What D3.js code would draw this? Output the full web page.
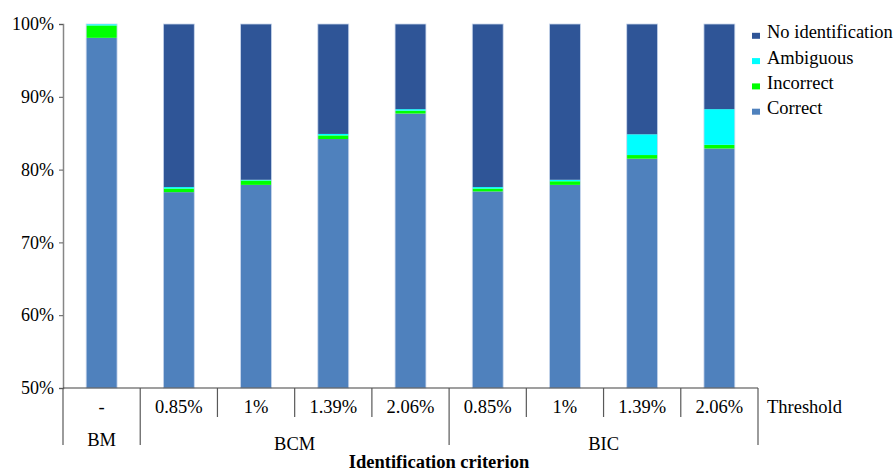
<!DOCTYPE html>
<html><head><meta charset="utf-8">
<script src="https://cdn.jsdelivr.net/npm/d3@7"></script>
</head><body style="margin:0;background:#fff"><svg id="c" width="896" height="471" style="display:block"></svg>
<script>
const criteria = ["BM","BCM","BCM","BCM","BCM","BIC","BIC","BIC","BIC"];
const thresholds = ["-","0.85%","1%","1.39%","2.06%","0.85%","1%","1.39%","2.06%"];
const seriesNames = ["Correct","Incorrect","Ambiguous","No identification"];
const correct   = [98.1, 76.9, 77.9, 84.2, 87.7, 77.0, 77.9, 81.5, 82.9];
const incorrect = [1.7, 0.5, 0.6, 0.5, 0.4, 0.4, 0.5, 0.5, 0.5];
const ambiguous = [0.2, 0.2, 0.1, 0.2, 0.2, 0.2, 0.2, 2.85, 4.9];
const noIdent   = [0.0, 22.4, 21.4, 15.1, 11.7, 22.4, 21.4, 15.15, 11.7];
const groups = [{name:"BM", from:0, to:1},{name:"BCM", from:1, to:5},{name:"BIC", from:5, to:9}];
const yTicks = [50,60,70,80,90,100];
const colors = {"Correct":"#4F81BD","Incorrect":"#00FF00","Ambiguous":"#00FFFF","No identification":"#2F5597"};
const FONT = "Liberation Serif";

const svg = d3.select("#c");
const L = 63, R = 758, T = 24, B = 388;
const idx = d3.range(thresholds.length);
const x = d3.scaleBand().domain(idx).range([L, R]).paddingInner(0.6).paddingOuter(0.3);
const xb = d3.scaleLinear().domain([0, thresholds.length]).range([L, R]);
const y = d3.scaleLinear().domain([50, 100]).range([B, T]);

const rows = idx.map(i => ({i, "Correct":correct[i], "Incorrect":incorrect[i], "Ambiguous":ambiguous[i], "No identification":noIdent[i]}));
const stack = d3.stack().keys(seriesNames)(rows);

svg.append("g").selectAll("g").data(stack).join("g")
  .attr("fill", d => colors[d.key])
  .selectAll("rect").data(d => d).join("rect")
  .attr("x", d => x(d.data.i))
  .attr("width", x.bandwidth())
  .attr("y", d => y(Math.min(100, d[1])))
  .attr("height", d => Math.max(0, y(Math.max(50, d[0])) - y(Math.min(100, d[1]))));

// light bar outline
svg.append("g").selectAll("rect").data(idx).join("rect")
  .attr("x", i => x(i)).attr("width", x.bandwidth())
  .attr("y", y(100)).attr("height", y(50) - y(100))
  .attr("fill", "none").attr("stroke", "#c8d6ec").attr("stroke-width", 0.8);

// y axis
const ya = svg.append("g").attr("transform", `translate(${L},0)`)
  .call(d3.axisLeft(y).tickValues(yTicks).tickFormat(d => d + "%").tickSize(4).tickPadding(5));
ya.attr("font-family", null).attr("font-size", null);
ya.select(".domain").attr("stroke", "#868686").attr("stroke-width", 1.5);
ya.selectAll(".tick line").attr("stroke", "#595959");
ya.selectAll("text").attr("fill", "#000").style("font-size", "18px").style("font-family", FONT);

// x axis line
svg.append("line").attr("x1", L).attr("x2", R).attr("y1", B).attr("y2", B)
  .attr("stroke", "#404040").attr("stroke-width", 1.2);

// separators
const groupEdges = new Set([0, ...groups.map(g => g.to)]);
d3.range(thresholds.length + 1).forEach(k => {
  svg.append("line").attr("x1", xb(k)).attr("x2", xb(k))
    .attr("y1", B).attr("y2", groupEdges.has(k) ? 445 : 417)
    .attr("stroke", "#595959").attr("stroke-width", 1.2);
});

// threshold labels
svg.append("g").selectAll("text").data(idx).join("text")
  .attr("x", i => x(i) + x.bandwidth()/2).attr("y", 413)
  .attr("text-anchor", "middle").style("font-size", "18.5px").style("font-family", FONT).text(i => thresholds[i]);
svg.append("text").attr("x", 767).attr("y", 413).style("font-size", "18.5px").style("font-family", FONT).text("Threshold");

// group labels
svg.append("g").selectAll("text").data(groups).join("text")
  .attr("x", g => (xb(g.from) + xb(g.to))/2).attr("y", g => g.name === "BM" ? 446 : 450)
  .attr("text-anchor", "middle").style("font-size", "18.5px").style("font-family", FONT).text(g => g.name);

svg.append("text").attr("x", 439).attr("y", 468).attr("text-anchor", "middle")
  .style("font-size", "18.5px").style("font-weight", "bold").style("font-family", FONT).text("Identification criterion");

// legend
const legendItems = seriesNames.slice().reverse();
const lg = svg.append("g").selectAll("g").data(legendItems).join("g")
  .attr("transform", (d, k) => `translate(752,${38.3 + k * 25.3})`);
lg.append("rect").attr("x", 0).attr("y", -5.5).attr("width", 8).attr("height", 6).attr("fill", d => colors[d]);
lg.append("text").attr("x", 15).attr("y", 0).style("font-size", "18.5px").style("font-family", FONT).text(d => d);
</script></body></html>
